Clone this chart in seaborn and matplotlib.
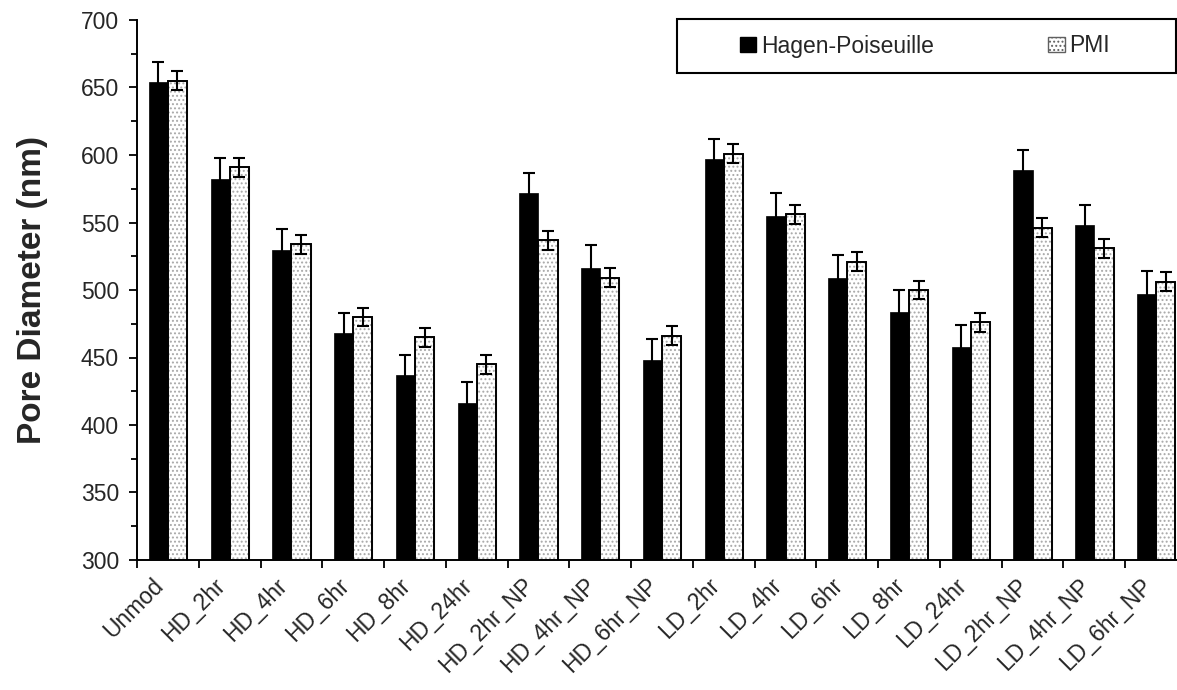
import numpy as np
import pandas as pd
import matplotlib
matplotlib.use("Agg")
import matplotlib.pyplot as plt
import matplotlib.transforms as mtransforms
import seaborn as sns
from matplotlib.patches import Rectangle, Patch

# Sample names (x categories)
samples = ["Unmod", "HD_2hr", "HD_4hr", "HD_6hr", "HD_8hr", "HD_24hr",
           "HD_2hr_NP", "HD_4hr_NP", "HD_6hr_NP", "LD_2hr", "LD_4hr",
           "LD_6hr", "LD_8hr", "LD_24hr", "LD_2hr_NP", "LD_4hr_NP", "LD_6hr_NP"]

# Pore diameters (nm) and their error bars
hagen = [654, 582, 530, 468, 437, 416, 572, 516, 448, 597, 555, 509, 484, 458, 589, 548, 497]
hagen_err = [15, 16, 15, 15, 15, 16, 15, 17, 16, 15, 17, 17, 16, 16, 15, 15, 17]
pmi = [655, 591, 534, 480, 465, 445, 537, 509, 466, 601, 556, 521, 500, 476, 546, 531, 506]
pmi_err = [7, 7, 7, 7, 7, 7, 7, 7, 7, 7, 7, 7, 7, 7, 7, 7, 7]

methods = ["Hagen-Poiseuille", "PMI"]
y_ticks = [300, 350, 400, 450, 500, 550, 600, 650, 700]

df = pd.DataFrame({
    "Sample": samples * 2,
    "Pore": hagen + pmi,
    "Method": [methods[0]] * len(samples) + [methods[1]] * len(samples),
})

sns.set_theme(style="white")
plt.rcParams["font.family"] = ["Liberation Sans", "DejaVu Sans"]
plt.rcParams["hatch.linewidth"] = 0.9

fig = plt.figure(figsize=(11.77, 6.90), dpi=100)
ax = fig.add_axes([137 / 1177, 1 - 560 / 690, 1050 / 1177, 540 / 690])

sns.barplot(data=df, x="Sample", y="Pore", hue="Method", order=samples,
            hue_order=methods, palette=["black", "white"], saturation=1,
            width=0.62, gap=0, errorbar=None, legend=False, ax=ax)

hagen_bars, pmi_bars = ax.containers[0], ax.containers[1]
for b in hagen_bars:
    b.set_facecolor("black")
    b.set_edgecolor("black")
    b.set_linewidth(0.5)
for b in pmi_bars:
    b.set_facecolor("white")
    b.set_edgecolor("#a8a8a8")
    b.set_hatch("....")
    b.set_linewidth(0.8)
    x0, y0 = b.get_xy()
    ax.add_patch(Rectangle((x0, y0), b.get_width(), b.get_height(),
                           fill=False, edgecolor="black", linewidth=1.4, zorder=3))

# Error bars centred on each bar
for bars, errs in ((hagen_bars, hagen_err), (pmi_bars, pmi_err)):
    xs = [b.get_x() + b.get_width() / 2 for b in bars]
    ys = [b.get_height() for b in bars]
    ax.errorbar(xs, ys, yerr=errs, fmt="none", ecolor="black",
                elinewidth=1.5, capsize=4.5, capthick=1.5, zorder=5)

ax.set_ylim(300, 700)
ax.set_xlim(-0.5, len(samples) - 0.5)
ax.set_yticks(y_ticks)
ax.set_yticks(np.arange(325, 700, 50), minor=True)
ax.set_xticks(np.arange(-0.5, len(samples), 1.0), minor=True)

ax.tick_params(axis="y", which="major", direction="out", length=6, width=1.3,
               color="black", labelsize=16.5, pad=7, left=True)
ax.tick_params(axis="y", which="minor", direction="out", length=4, width=1.3,
               color="black", left=True)
ax.tick_params(axis="x", which="major", length=0, labelsize=16.5, pad=10)
ax.tick_params(axis="x", which="minor", direction="out", length=6, width=1.3,
               color="black", bottom=True)
ax.set_xticklabels(samples, rotation=45, ha="right", rotation_mode="anchor")
shift = mtransforms.ScaledTranslation(-0.16, 0, fig.dpi_scale_trans)
for lab in ax.get_xticklabels():
    lab.set_transform(lab.get_transform() + shift)

for side in ("top", "right"):
    ax.spines[side].set_visible(False)
for side in ("left", "bottom"):
    ax.spines[side].set_color("black")
    ax.spines[side].set_linewidth(1.4)

ax.set_xlabel("")
ax.set_ylabel("Pore Diameter (nm)", fontsize=24, fontweight="bold")
ax.yaxis.set_label_coords((48 - 137) / 1050, 0.5)

# Legend box and entries
fig.add_artist(Rectangle((677 / 1177, 1 - 73 / 690), (1175.5 - 677) / 1177, 54 / 690,
                         transform=fig.transFigure, fill=False,
                         edgecolor="black", linewidth=1.5))
handles = [Patch(facecolor="black", edgecolor="black"),
           Patch(facecolor="white", edgecolor="#606060", hatch="....", linewidth=1.0)]
fig.legend(handles, methods, ncol=2, loc="center", frameon=False,
           bbox_to_anchor=(925 / 1177, 1 - 46 / 690), fontsize=16.5,
           handlelength=0.72, handleheight=0.65, handletextpad=0.2,
           columnspacing=5.0)

fig.savefig("out.png", dpi=100)
